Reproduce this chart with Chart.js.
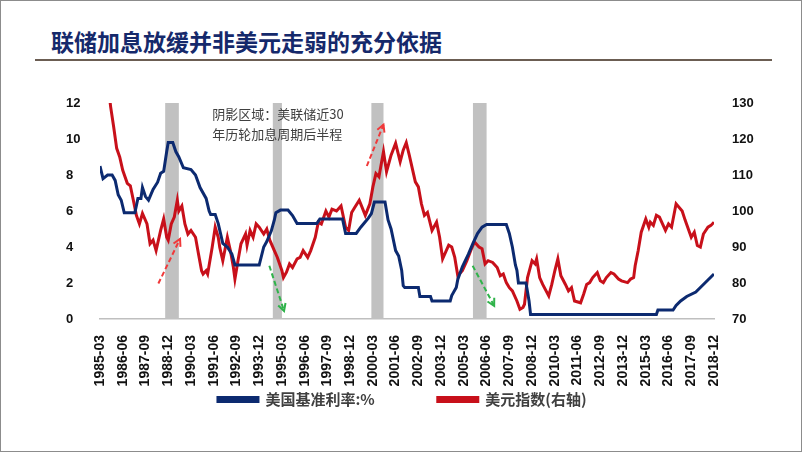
<!DOCTYPE html>
<html>
<head>
<meta charset="utf-8">
<script src="https://cdn.jsdelivr.net/npm/chart.js@4/dist/chart.umd.min.js"></script>
<style>
  html, body { margin: 0; padding: 0; background: #fff; }
  body { width: 802px; height: 452px; position: relative; overflow: hidden; }
  #frame { position: absolute; left: 0; top: 0; width: 800px; height: 450px; border: 1px solid #8c8c8c; }
  #title { position: absolute; left: 51px; top: 25px; font: bold 23px "Noto Sans CJK SC", sans-serif; color: #15296b; white-space: nowrap; line-height: 32px; }
  #rule { position: absolute; left: 35px; top: 59px; width: 737px; height: 2px; background: #6b5d52; }
  #wrap { position: absolute; left: 0; top: 0; width: 802px; height: 452px; }
</style>
</head>
<body>
<div id="frame"></div>
<div id="title">联储加息放缓并非美元走弱的充分依据</div>
<div id="rule"></div>
<div id="wrap"><canvas id="chart" width="802" height="452"></canvas></div>
<script>
// months counted from 1985-03 (0) to 2018-12 (405)
const tickLabels = ['1985-03','1986-06','1987-09','1988-12','1990-03','1991-06','1992-09','1993-12',
  '1995-03','1996-06','1997-09','1998-12','2000-03','2001-06','2002-09','2003-12','2005-03','2006-06',
  '2007-09','2008-12','2010-03','2011-06','2012-09','2013-12','2015-03','2016-06','2017-09','2018-12']

// 美国基准利率
const rateMonths = [0,2,5,8,10,12,14,16,23,25,27,28,30,32,35,38,40,42,44,45,48,50,52,55,60,63,66,70,72,73,76,78,81,84,87,89,
  105,108,110,113,115,116,119,124,127,130,143,145,160,162,169,172,175,177,179,181,188,190,192,195,197,199,200,201,210,211,
  218,219,231,232,235,236,239,243,246,249,252,255,268,270,272,274,275,276,281,283,284,367,368,378,380,383,387,393,396,399,402,405]
const rateValues = [8.5,7.8,8.0,8.0,7.7,6.9,6.6,5.9,5.9,6.7,6.7,7.3,6.8,6.6,7.2,7.6,8.1,8.2,9.3,9.8,9.8,9.3,9.0,8.4,8.3,8.0,7.3,6.7,6.0,5.8,5.8,5.3,4.2,4.0,3.6,3.0,
  3.0,4.0,4.3,4.9,5.5,5.9,6.05,6.05,5.75,5.3,5.3,5.55,5.55,4.75,4.75,5.1,5.4,5.6,5.85,6.5,6.5,5.5,5.0,3.8,3.5,2.7,1.85,1.75,1.75,1.25,
  1.25,1.0,1.0,1.3,1.75,2.2,2.9,3.6,4.2,4.75,5.1,5.25,5.25,4.75,4.0,3.0,2.7,2.0,2.0,1.0,0.25,0.25,0.5,0.5,0.75,1.0,1.25,1.5,1.75,2.0,2.25,2.5]

// 美元指数(右轴)
const dxyMonths = [0,4,7,9,11,13,15,18,20,22,24,26,28,31,33,35,37,40,42,44,45,47,49,51,52,54,56,58,60,63,65,67,68,70,71,74,76,78,79,81,84,86,88,89,
  91,93,96,97,99,101,103,105,108,110,112,115,117,120,121,123,125,127,130,132,134,137,139,142,144,146,149,151,153,156,159,162,164,166,168,171,175,178,
  180,182,184,187,189,192,195,198,200,202,204,208,210,212,214,216,219,222,224,226,230,232,234,236,239,242,245,247,250,252,254,256,259,262,264,266,268,
  270,272,275,277,279,280,282,285,287,288,290,292,296,298,300,302,304,307,309,311,313,317,319,321,323,325,328,330,332,334,337,339,342,344,348,350,352,
  353,355,357,360,362,363,365,367,369,373,375,377,380,384,386,390,392,394,396,398,401,403,405]
const dxyValues = [152,140,129,123.4,117.4,115,111.3,107.7,107,103,98.8,96.4,99.3,96.4,90.9,91.9,89,94.6,97.8,92.7,91.9,96.4,98.3,103,100,101.4,96.4,93.6,94.6,92.7,88,83.4,82.5,83.4,82.5,89.9,95.5,92.7,89.9,86.2,92.7,89,84.3,81.1,
  86.2,90.9,93.6,90.5,94.6,92.7,96.4,95.5,93.6,95,91.9,89,87.1,83.4,81.5,83,85.3,84.3,86.7,87.1,89,87.1,89,92.7,96.9,96.4,100,98.3,100.5,100,101.4,95.5,94.6,99.6,101,103,98.8,102,
  106.7,110.4,109.5,116.5,110.9,115.5,118.8,113.7,116.9,119,115.5,108.1,106.7,102,98.8,99.6,94.6,96.9,92.7,86.7,90.5,90,87.1,82,83.4,86.2,89.5,91.4,90,89.5,85.3,86.2,85.7,84.3,82,82.5,80.1,
  78.7,77.8,75,72.7,73.2,74.1,81.5,86.2,85.3,86.7,81.5,79.6,76.4,79.6,83.4,86.7,82,79.6,77.8,78.7,75,74.5,76.9,79.6,80.1,81.5,82.9,80.6,80.1,81.5,82.9,82.5,81.1,80.6,80.1,81.1,81.5,
  84.8,89,94.1,97.8,95.5,96.9,96,98.8,98.3,94.6,96.4,95.5,102,100,97.4,92.7,94.1,90.4,90,93.6,95.5,96,96.9]

// 阴影区域: 加息周期后半程
const shadeStart = [43, 114, 179, 246]
const shadeEnd = [52, 120, 187, 255]

// dashed arrows, [fromMonth, fromRate, toMonth, toRate]
const arrows = [
  {pts: [38.5, 1.97, 52.8, 4.45], color: '#f0393a'},
  {pts: [111.7, 2.96, 121.4, 0.45], color: '#2fb34a'},
  {pts: [176, 8.5, 187, 10.8], color: '#f0393a'},
  {pts: [245.8, 2.96, 260, 0.73], color: '#2fb34a'}
]

function toPoints(xs, ys) {
  return xs.map((x, i) => ({x: x, y: ys[i]}))
}

const shadePlugin = {
  id: 'shade',
  beforeDatasetsDraw(chart) {
    const {ctx, scales: {x, y}} = chart
    ctx.save()
    ctx.fillStyle = '#c1c1c1'
    for (let i = 0; i < shadeStart.length; i++) {
      const x1 = x.getPixelForValue(shadeStart[i])
      const x2 = x.getPixelForValue(shadeEnd[i])
      const top = y.getPixelForValue(12)
      const bottom = y.getPixelForValue(0)
      ctx.fillRect(x1, top, x2 - x1, bottom - top)
    }
    ctx.restore()
  }
}

const notePlugin = {
  id: 'notes',
  afterDatasetsDraw(chart) {
    const {ctx, scales: {x, y}} = chart
    ctx.save()
    ctx.lineWidth = 2
    arrows.forEach(a => {
      const [m1, v1, m2, v2] = a.pts
      const x1 = x.getPixelForValue(m1), y1 = y.getPixelForValue(v1)
      const x2 = x.getPixelForValue(m2), y2 = y.getPixelForValue(v2)
      ctx.strokeStyle = a.color
      ctx.setLineDash([5, 3])
      ctx.beginPath()
      ctx.moveTo(x1, y1)
      ctx.lineTo(x2, y2)
      ctx.stroke()
      ctx.setLineDash([])
      const ang = Math.atan2(y2 - y1, x2 - x1)
      ctx.beginPath()
      ctx.moveTo(x2 - 8 * Math.cos(ang - 0.5), y2 - 8 * Math.sin(ang - 0.5))
      ctx.lineTo(x2, y2)
      ctx.lineTo(x2 - 8 * Math.cos(ang + 0.5), y2 - 8 * Math.sin(ang + 0.5))
      ctx.stroke()
    })
    ctx.fillStyle = '#404040'
    ctx.font = '13px "Noto Sans CJK SC", sans-serif'
    ctx.textBaseline = 'middle'
    const tx = x.getPixelForValue(74)
    ctx.fillText('阴影区域：美联储近30', tx, y.getPixelForValue(11.4))
    ctx.fillText('年历轮加息周期后半程', tx, y.getPixelForValue(10.3))
    ctx.restore()
  }
}

const graph = new Chart(document.getElementById('chart'), {
  type: 'line',
  data: {
    datasets: [{
      label: '美国基准利率:%',
      data: toPoints(rateMonths, rateValues),
      borderColor: '#0c2a70',
      backgroundColor: '#0c2a70',
      borderWidth: 3,
      pointRadius: 0,
      yAxisID: 'y',
      clip: 0
    }, {
      label: '美元指数(右轴)',
      data: toPoints(dxyMonths, dxyValues),
      borderColor: '#c8101a',
      backgroundColor: '#c8101a',
      borderWidth: 3,
      pointRadius: 0,
      yAxisID: 'y1',
      clip: 0
    }]
  },
  options: {
    responsive: false,
    animation: false,
    layout: { padding: { left: 66, right: 0, top: 103, bottom: 35 } },
    plugins: {
      tooltip: { enabled: false },
      legend: {
        position: 'bottom',
        labels: {
          boxWidth: 40,
          boxHeight: 4,
          padding: 3,
          color: '#404040',
          font: { size: 15, weight: 'bold', family: '"Noto Sans CJK SC", sans-serif' },
          generateLabels(chart) {
            const items = Chart.defaults.plugins.legend.labels.generateLabels(chart)
            items[0].text += '\u3000\u3000\u3000\u3000'
            items[1].text += '\u3000\u3000\u3000\u3000 '
            return items
          }
        }
      }
    },
    scales: {
      x: {
        type: 'linear',
        min: 0,
        max: 405,
        grid: { display: false },
        border: { display: true, color: '#bfbfbf', width: 1.5 },
        ticks: {
          stepSize: 15,
          autoSkip: false,
          maxRotation: 90,
          minRotation: 90,
          padding: 8,
          color: '#111',
          font: { size: 14, weight: 'bold', family: '"Liberation Sans", sans-serif' },
          callback: (value, index) => tickLabels[index]
        },
        afterFit: scale => { scale.height = 70 }
      },
      y: {
        position: 'left',
        min: 0,
        max: 12,
        grid: { display: false },
        border: { display: false },
        ticks: {
          stepSize: 2,
          crossAlign: 'far',
          color: '#111',
          font: { size: 13, weight: 'bold', family: '"Liberation Sans", sans-serif' }
        },
        afterFit: scale => { scale.width = 34 }
      },
      y1: {
        position: 'right',
        min: 70,
        max: 130,
        grid: { display: false },
        border: { display: false },
        ticks: {
          stepSize: 10,
          padding: 10,
          color: '#111',
          font: { size: 13, weight: 'bold', family: '"Liberation Sans", sans-serif' }
        },
        afterFit: scale => { scale.width = 88 }
      }
    }
  },
  plugins: [shadePlugin, notePlugin]
})
</script>
</body>
</html>
